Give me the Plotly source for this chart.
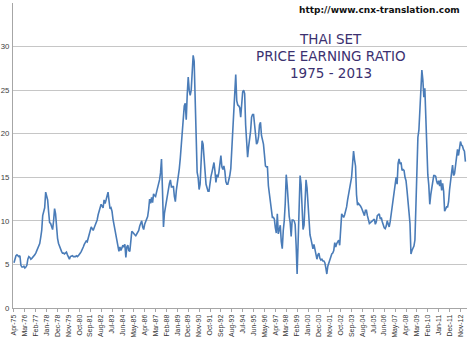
import pandas as pd
import plotly.graph_objects as go

# Monthly price/earnings ratio of the Thai SET, Apr-1975 .. Apr-2013
pe_1975 = [5.2, 5.7, 6.0, 6.1, 6.0, 5.9, 6.0, 4.9, 4.7]
pe_1976 = [4.7, 4.8, 4.6, 4.7, 4.9, 5.6, 5.9, 5.8, 5.6, 5.7, 5.8, 5.9]
pe_1977 = [6.1, 6.3, 6.6, 6.9, 7.1, 7.4, 8.1, 8.9, 10.6, 11.3, 11.5, 13.3]
pe_1978 = [12.9, 12.4, 11.0, 9.8, 9.7, 9.3, 9.0, 10.0, 11.4, 10.8, 9.0, 8.0]
pe_1979 = [7.4, 7.0, 6.8, 6.5, 6.3, 6.3, 6.2, 6.3, 6.4, 6.1, 5.8, 5.6]
pe_1980 = [5.9, 6.0, 6.0, 5.9, 5.9, 5.9, 6.0, 5.9, 6.0, 6.1, 6.3, 6.5]
pe_1981 = [6.7, 7.0, 7.3, 7.6, 7.7, 7.6, 8.0, 8.5, 8.9, 9.3, 9.1, 8.9]
pe_1982 = [9.2, 9.5, 9.8, 10.1, 10.7, 11.1, 11.4, 11.9, 11.7, 11.5, 12.4, 12.0]
pe_1983 = [12.4, 12.9, 13.3, 12.3, 11.4, 11.5, 11.1, 10.2, 9.5, 8.9, 8.2, 7.5]
pe_1984 = [6.9, 6.5, 7.0, 6.6, 6.9, 7.2, 7.0, 7.3, 5.8, 7.0, 7.2, 6.6]
pe_1985 = [6.5, 7.6, 8.8, 8.7, 8.5, 8.4, 8.3, 8.5, 8.8, 8.9, 9.4, 9.8]
pe_1986 = [10.0, 9.3, 9.0, 9.6, 9.9, 10.2, 10.5, 11.3, 12.5, 12.0, 12.7, 12.1]
pe_1987 = [13.1, 12.9, 12.8, 13.3, 13.7, 14.3, 14.7, 15.5, 17.1, 13.5, 9.3, 10.9]
pe_1988 = [11.6, 12.5, 13.1, 13.5, 14.3, 14.7, 13.9, 13.9, 14.0, 12.8, 12.2, 13.5]
pe_1989 = [14.3, 14.9, 16.0, 17.2, 18.6, 20.0, 21.3, 23.2, 23.5, 21.6, 24.5, 26.5]
pe_1990 = [25.0, 24.4, 25.0, 27.5, 29.0, 28.3, 23.0, 18.5, 15.6, 15.0, 13.6, 14.2]
pe_1991 = [17.5, 19.2, 18.8, 17.6, 15.7, 14.2, 13.7, 13.4, 13.4, 14.4, 15.1, 15.6]
pe_1992 = [16.1, 16.7, 15.7, 14.4, 15.3, 15.0, 15.6, 16.3, 17.5, 16.2, 15.9, 16.3]
pe_1993 = [15.7, 14.5, 14.2, 14.2, 14.6, 15.2, 16.0, 18.0, 20.0, 22.8, 25.5, 26.8]
pe_1994 = [23.8, 23.3, 23.2, 23.0, 21.9, 24.2, 24.8, 25.0, 24.6, 21.0, 19.3, 17.3]
pe_1995 = [18.5, 19.2, 20.3, 21.9, 22.2, 22.2, 21.2, 20.3, 18.8, 19.0, 19.6, 21.0]
pe_1996 = [21.3, 19.8, 19.4, 18.8, 17.6, 16.3, 16.2, 16.2, 14.0, 13.1, 12.2, 11.3]
pe_1997 = [10.4, 10.4, 10.2, 9.2, 8.6, 10.8, 8.5, 9.0, 9.5, 7.6, 6.8, 8.9]
pe_1998 = [10.0, 12.0, 15.3, 14.0, 11.5, 10.5, 9.8, 8.2, 10.1, 10.1, 10.0, 9.6]
pe_1999 = [7.2, 3.9, 7.5, 13.5, 15.2, 14.2, 11.5, 9.0, 9.5, 12.5, 14.7, 13.8]
pe_2000 = [11.6, 9.3, 8.4, 7.9, 7.4, 6.8, 7.3, 6.6, 6.0, 5.6, 6.1, 6.3]
pe_2001 = [5.7, 5.5, 5.6, 5.4, 5.4, 5.2, 4.6, 3.9, 4.8, 5.2, 5.6, 5.9]
pe_2002 = [6.2, 6.3, 6.6, 7.5, 7.0, 7.4, 7.7, 7.8, 7.2, 8.8, 10.8, 10.6]
pe_2003 = [10.4, 10.7, 11.1, 11.6, 12.4, 13.2, 13.7, 14.3, 15.0, 16.5, 18.0, 17.0]
pe_2004 = [16.3, 13.0, 11.8, 12.0, 11.9, 11.7, 11.5, 11.2, 10.9, 10.6, 11.2, 11.2]
pe_2005 = [10.6, 10.1, 9.7, 9.8, 9.9, 10.1, 10.1, 10.2, 9.6, 9.9, 10.6, 10.7]
pe_2006 = [10.8, 10.2, 10.4, 9.9, 9.5, 9.2, 9.1, 9.4, 10.0, 9.6, 9.3, 9.9]
pe_2007 = [10.7, 11.5, 12.4, 13.2, 14.0, 15.0, 14.2, 16.6, 17.1, 16.5, 16.7, 15.8]
pe_2008 = [15.9, 15.8, 15.0, 14.6, 13.5, 11.6, 11.0, 9.7, 6.2, 6.6, 6.8, 7.1]
pe_2009 = [7.8, 11.2, 15.8, 19.6, 20.4, 23.0, 25.8, 27.3, 26.2, 24.2, 25.2, 21.5]
pe_2010 = [18.0, 15.3, 14.1, 11.9, 13.0, 13.7, 14.4, 15.2, 15.2, 15.1, 14.5, 14.2]
pe_2011 = [14.6, 14.0, 14.7, 13.5, 14.3, 13.4, 11.1, 11.3, 11.6, 11.6, 12.2, 13.6]
pe_2012 = [15.1, 15.5, 16.4, 15.2, 15.4, 16.5, 17.6, 18.2, 17.5, 18.2, 19.1, 18.7]
pe_2013 = [18.6, 18.2, 18.0, 16.8]

pe_ratio = (pe_1975 + pe_1976 + pe_1977 + pe_1978 + pe_1979 + pe_1980 + pe_1981
            + pe_1982 + pe_1983 + pe_1984 + pe_1985 + pe_1986 + pe_1987 + pe_1988
            + pe_1989 + pe_1990 + pe_1991 + pe_1992 + pe_1993 + pe_1994 + pe_1995
            + pe_1996 + pe_1997 + pe_1998 + pe_1999 + pe_2000 + pe_2001 + pe_2002
            + pe_2003 + pe_2004 + pe_2005 + pe_2006 + pe_2007 + pe_2008 + pe_2009
            + pe_2010 + pe_2011 + pe_2012 + pe_2013)

months = list(pd.date_range("1975-04-01", periods=len(pe_ratio), freq="MS").strftime("%b-%y"))

tick_labels = ["Apr-75", "Mar-76", "Feb-77", "Jan-78", "Dec-78", "Nov-79", "Oct-80",
               "Sep-81", "Aug-82", "Jul-83", "Jun-84", "May-85", "Apr-86", "Mar-87",
               "Feb-88", "Jan-89", "Dec-89", "Nov-90", "Oct-91", "Sep-92", "Aug-93",
               "Jul-94", "Jun-95", "May-96", "Apr-97", "Mar-98", "Feb-99", "Jan-00",
               "Dec-00", "Nov-01", "Oct-02", "Sep-03", "Aug-04", "Jul-05", "Jun-06",
               "May-07", "Apr-08", "Mar-09", "Feb-10", "Jan-11", "Dec-11", "Nov-12"]

title_lines = ["THAI SET", "PRICE EARNING RATIO", "1975 - 2013"]
site_url = "http://www.cnx-translation.com"

fig = go.Figure()
fig.add_trace(go.Scatter(
    x=months, y=pe_ratio, mode="lines",
    line=dict(color="#4a7cb8", width=1.6),
    hoverinfo="skip", showlegend=False,
))

fig.update_layout(
    width=467, height=337,
    margin=dict(l=13, r=0, t=3, b=29, autoexpand=False),
    paper_bgcolor="white", plot_bgcolor="white",
    font=dict(family="Liberation Sans, Arial, sans-serif"),
    xaxis=dict(
        type="category", range=[-1, 457.6], automargin=False,
        tickmode="array", tickvals=tick_labels, ticktext=tick_labels,
        tickangle=-90,
        tickfont=dict(family="Liberation Sans", size=6.9, color="#333333"),
        ticks="outside", ticklen=3, tickcolor="#a6a6a6",
        showgrid=False, showline=True, linecolor="#a6a6a6", linewidth=1,
        zeroline=False,
    ),
    yaxis=dict(
        range=[0, 35], dtick=5, tick0=0, automargin=False,
        tickfont=dict(family="Liberation Sans", size=7.8, color="#404040"),
        showgrid=True, gridcolor="#c6c6c6", gridwidth=1,
        showline=True, linecolor="#a6a6a6", linewidth=1,
        zeroline=False, ticks="", ticklabelstandoff=1,
    ),
)

# three stacked title lines, centred over the right half of the plot
title_px = [39, 56, 73]
for text, py in zip(title_lines, title_px):
    fig.add_annotation(
        text=text, xref="paper", yref="paper", x=0.70, y=(308 - py) / 305,
        xanchor="center", yanchor="middle", showarrow=False,
        font=dict(family="DejaVu Sans", size=13.5, color="#3b3170"),
    )

fig.add_annotation(
    text="<b>" + site_url + "</b>", xref="paper", yref="paper", x=0.989, y=0.977,
    xanchor="right", yanchor="middle", showarrow=False,
    font=dict(family="DejaVu Sans", size=9, color="#111111"),
)

fig.write_html("out.html")
